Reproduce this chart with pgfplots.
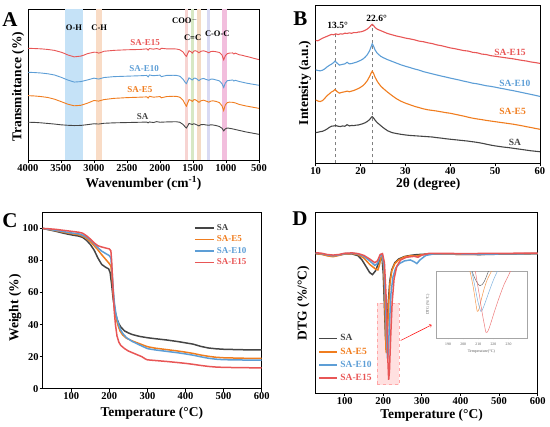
\documentclass[border=0pt]{standalone}
\usepackage{pgfplots}
\pgfplotsset{compat=1.18}
\usepackage{fontspec}
\setmainfont{Liberation Serif}
\definecolor{cSA}{HTML}{454545}
\definecolor{cE5}{HTML}{F07D1F}
\definecolor{cE10}{HTML}{5D9ED6}
\definecolor{cE15}{HTML}{E85656}
\definecolor{bOH}{HTML}{C5E2F7}
\definecolor{bCH}{HTML}{F9DCC6}
\definecolor{bPa}{HTML}{F7D4D2}
\definecolor{bG}{HTML}{D7E8C4}
\definecolor{bT}{HTML}{F4DAC4}
\definecolor{bL}{HTML}{D9DAF3}
\definecolor{bPb}{HTML}{F2BEDD}
\pgfplotsset{
  panel/.style={
    scale only axis, axis line style={line width=0.9pt}, tick style={line width=0.8pt,black},
    tick align=outside, tick pos=left, major tick length=3pt,
    /pgf/number format/assume math mode=true,
    /pgf/number format/1000 sep={},
    tick label style={font=\bfseries\fontsize{10.5}{11}\selectfont, inner sep=1pt},
    label style={font=\bfseries\fontsize{13.5}{14}\selectfont, inner sep=0pt},
  },
}
\begin{document}
\begin{tikzpicture}[x=1pt,y=1pt]
\path[use as bounding box] (0,0) rectangle (550,427);
% ---------------- A ----------------
\begin{axis}[panel, at={(28pt,267pt)}, anchor=south west, width=231pt, height=151pt,
  x dir=reverse, xmin=500, xmax=4000, ymin=0, ymax=100,
  xtick={500,1000,...,4000}, ytick=\empty,
  xlabel={Wavenumber (cm\textsuperscript{-1})}, ylabel={Transmittance (\%)},
  xlabel style={at={(axis description cs:0.5,-0.157)},anchor=center},
  ylabel style={at={(axis description cs:-0.043,0.485)},anchor=center},
]
\addplot[fill=bOH,draw=none] coordinates {(3440,0)(3170,0)(3170,100)(3440,100)} -- cycle;
\addplot[fill=bCH,draw=none] coordinates {(2965,0)(2880,0)(2880,100)(2965,100)} -- cycle;
\addplot[fill=bPa,draw=none] coordinates {(1621,0)(1571,0)(1571,100)(1621,100)} -- cycle;
\addplot[fill=bG,draw=none] coordinates {(1535,0)(1480,0)(1480,100)(1535,100)} -- cycle;
\addplot[fill=bT,draw=none] coordinates {(1435,0)(1385,0)(1385,100)(1435,100)} -- cycle;
\addplot[fill=bL,draw=none] coordinates {(1295,0)(1235,0)(1235,100)(1295,100)} -- cycle;
\addplot[fill=bPb,draw=none] coordinates {(1058,0)(992,0)(992,100)(1058,100)} -- cycle;
\addplot[cE15,line width=0.9pt] coordinates {
(4000,74.0)(3900,73.8)(3800,73.6)(3700,73.2)(3600,72.6)(3500,71.4)(3450,70.6)(3400,69.6)(3300,68.3)(3200,68.8)(3150,69.5)(3100,70.4)(3000,71.4)(2960,71.3)(2930,70.8)(2900,71.1)(2850,72.0)(2700,72.6)(2500,73.0)(2300,73.2)(2200,73.6)(2180,72.8)(2160,73.8)(2100,73.4)(2050,73.8)(2000,73.2)(1980,74.0)(1900,73.6)(1800,73.6)(1750,73.5)(1700,73.0)(1650,71.5)(1620,69.5)(1600,68.6)(1580,70.5)(1560,72.4)(1530,71.6)(1510,70.8)(1490,72.0)(1470,72.4)(1440,72.0)(1410,71.0)(1380,72.0)(1340,72.3)(1300,71.8)(1260,71.0)(1230,71.8)(1200,72.0)(1150,71.7)(1100,71.2)(1060,69.5)(1035,66.3)(1010,69.0)(980,70.4)(950,70.8)(900,70.9)(880,70.2)(860,70.8)(800,69.7)(750,69.3)(700,68.7)(650,68.2)(600,67.6)(550,67.0)(500,66.5)};
\addplot[cE10,line width=0.9pt] coordinates {
(4000,58.1)(3900,57.9)(3800,57.6)(3700,57.1)(3600,56.3)(3500,54.8)(3400,53.0)(3300,51.6)(3200,51.9)(3100,53.0)(3000,54.2)(2930,53.6)(2850,54.6)(2700,55.2)(2500,55.5)(2300,55.8)(2200,56.0)(2180,55.0)(2160,56.3)(2100,55.8)(2000,56.2)(1980,55.2)(1900,56.0)(1800,56.1)(1750,56.0)(1700,55.5)(1650,53.5)(1620,51.5)(1600,50.6)(1580,52.5)(1560,54.4)(1530,53.5)(1510,53.0)(1490,54.0)(1470,54.3)(1440,53.6)(1410,52.5)(1380,53.6)(1340,54.0)(1300,53.3)(1260,52.8)(1230,53.5)(1200,53.6)(1150,53.0)(1100,52.4)(1060,50.5)(1035,48.0)(1010,51.0)(980,52.5)(950,52.7)(900,53.0)(880,52.3)(860,52.8)(800,52.0)(700,51.0)(600,50.2)(500,49.5)};
\addplot[cE5,line width=0.9pt] coordinates {
(4000,42.6)(3900,42.4)(3800,42.0)(3700,41.4)(3600,40.3)(3500,38.7)(3400,37.0)(3300,35.9)(3200,36.2)(3100,37.6)(3000,39.4)(2930,39.0)(2850,40.0)(2700,40.8)(2500,41.3)(2300,41.6)(2200,41.8)(2180,41.0)(2160,42.2)(2100,41.6)(2000,42.0)(1980,41.2)(1900,42.0)(1800,42.2)(1750,42.1)(1700,41.6)(1650,39.5)(1620,37.0)(1600,35.6)(1580,37.8)(1560,40.0)(1530,39.5)(1510,38.8)(1490,39.8)(1470,40.0)(1440,39.2)(1410,38.2)(1380,39.2)(1340,39.6)(1300,39.0)(1260,38.3)(1230,39.0)(1200,39.2)(1150,38.8)(1100,38.0)(1060,35.8)(1035,32.8)(1010,36.5)(980,38.0)(950,38.3)(900,38.2)(860,37.8)(800,36.8)(700,35.8)(600,35.0)(500,34.2)};
\addplot[cSA,line width=0.9pt] coordinates {
(4000,25.0)(3900,24.9)(3800,24.6)(3700,24.2)(3600,23.8)(3500,23.3)(3400,23.0)(3300,22.8)(3200,22.9)(3100,23.4)(3000,24.0)(2930,23.8)(2850,24.3)(2700,24.6)(2500,24.8)(2300,25.0)(2200,25.1)(2180,24.6)(2160,25.2)(2100,24.8)(2050,25.4)(2000,25.0)(1900,25.2)(1800,25.3)(1750,25.3)(1700,25.0)(1650,23.5)(1620,22.0)(1600,21.2)(1580,22.6)(1560,24.2)(1530,23.8)(1510,23.5)(1490,24.0)(1470,23.8)(1440,23.2)(1410,22.6)(1380,23.4)(1340,23.5)(1300,23.2)(1260,23.0)(1230,23.3)(1200,23.2)(1150,22.8)(1100,22.2)(1060,21.0)(1035,19.3)(1010,20.6)(980,21.2)(950,21.0)(900,20.6)(800,19.6)(700,18.6)(600,17.8)(500,17.0)};
\begin{scope}[font=\bfseries\fontsize{9}{10}\selectfont]
\node[cE15] at (axis cs:2227,77.7) {SA-E15};
\node[cE10] at (axis cs:2240,60.7) {SA-E10};
\node[cE5] at (axis cs:2303,46.8) {SA-E5};
\node[cSA] at (axis cs:2262,28.7) {SA};
\end{scope}
\begin{scope}[font=\bfseries\fontsize{8.5}{9}\selectfont]
\node at (axis cs:3303,87.6) {O-H};
\node at (axis cs:2920,87.6) {C-H};
\node at (axis cs:1621,92.3) {COO$^{-}$};
\node at (axis cs:1505,81.2) {C=C};
\node at (axis cs:1132,83.9) {C-O-C};
\end{scope}
\end{axis}
% ---------------- B ----------------
\begin{axis}[panel, at={(315.7pt,263.7pt)}, anchor=south west, width=224.3pt, height=158.3pt,
  xmin=10, xmax=60, ymin=0, ymax=100, xtick={10,20,...,60}, ytick=\empty,
  xlabel={2θ (degree)}, ylabel={Intensity (a.u.)},
  xlabel style={at={(axis description cs:0.502,-0.133)},anchor=center},
  ylabel style={at={(axis description cs:-0.048,0.507)},anchor=center},
]
\addplot[gray,dashed,line width=0.6pt] coordinates {(14.3,0)(14.3,81.5)};
\addplot[gray,dashed,line width=0.6pt] coordinates {(22.6,0)(22.6,87.5)};
\addplot[cE15,line width=1.1pt] coordinates {
(10,77.6)(10.5,77.4)(11,78.2)(11.5,79.0)(12,79.6)(12.5,80.2)(13,80.8)(13.5,81.4)(14,81.2)(14.5,81.8)(15,81.3)(15.5,81.8)(16,81.6)(16.5,82.2)(17,82.0)(17.5,82.4)(18,82.1)(18.5,82.6)(19,82.5)(19.5,82.9)(20,83.0)(20.5,83.4)(21,84.0)(21.5,84.8)(22,86.0)(22.4,87.3)(22.6,87.8)(22.9,87.0)(23.3,85.6)(23.8,84.6)(24.5,83.8)(25,83.2)(26,82.0)(27,81.2)(28,80.4)(29,79.8)(30,79.1)(31,78.6)(32,78.0)(33,77.2)(34,76.8)(35,76.1)(36,75.6)(37,74.8)(38,74.3)(39,73.6)(40,72.9)(41,72.4)(42,71.8)(43,71.2)(44,70.9)(45,70.1)(46,69.8)(47,69.0)(48,68.7)(49,68.0)(50,67.6)(51,67.2)(52,66.8)(53,66.4)(54,66.0)(55,65.5)(56,65.0)(57,64.6)(58,64.0)(59,63.6)(60,63.1)};
\addplot[cE10,line width=1.1pt] coordinates {
(10,59.0)(10.5,58.6)(11,58.4)(11.5,58.8)(12,59.6)(12.5,60.8)(13,61.8)(13.5,62.6)(14,63.6)(14.3,64.6)(14.8,63.2)(15.3,62.0)(15.8,62.4)(16.5,62.8)(17,63.8)(17.5,62.8)(18,63.0)(18.5,63.4)(19,63.8)(19.5,64.4)(20,65.0)(20.5,65.8)(21,67.0)(21.5,68.6)(22,71.0)(22.4,74.0)(22.6,75.5)(22.9,74.0)(23.2,71.8)(23.6,70.0)(24,68.8)(24.5,67.6)(25,66.8)(26,65.5)(27,64.4)(28,63.3)(29,62.2)(30,61.3)(31,60.5)(32,59.6)(33,58.9)(34,57.9)(35,57.2)(36,56.5)(37,55.8)(38,55.1)(39,54.5)(40,53.8)(41,53.2)(42,52.6)(43,51.9)(44,51.3)(45,50.6)(46,50.2)(47,49.6)(48,49.0)(49,48.6)(50,48.1)(51,47.5)(52,47.0)(53,46.4)(54,45.9)(55,45.3)(56,44.7)(57,44.1)(58,43.5)(59,42.9)(60,42.2)};
\addplot[cE5,line width=1.1pt] coordinates {
(10,40.0)(10.5,39.3)(11,39.0)(11.5,39.6)(12,41.0)(12.5,42.6)(13,43.8)(13.5,45.0)(14,45.8)(14.3,46.6)(14.8,45.2)(15.3,44.3)(15.8,44.8)(16.5,45.2)(17,45.6)(17.5,45.2)(18,45.6)(18.5,46.0)(19,46.6)(19.5,47.2)(20,48.0)(20.5,49.0)(21,50.4)(21.5,52.2)(22,54.8)(22.4,57.2)(22.6,58.2)(22.9,56.8)(23.2,54.6)(23.6,52.4)(24,50.6)(24.5,48.8)(25,47.4)(26,45.0)(27,42.8)(28,40.8)(29,39.2)(30,38.0)(31,37.0)(32,36.0)(33,35.2)(34,34.4)(35,33.8)(36,33.4)(37,33.0)(38,32.5)(39,32.0)(40,31.6)(41,31.0)(42,30.4)(43,29.8)(44,29.1)(45,28.5)(46,28.0)(47,27.6)(48,27.1)(49,26.7)(50,26.3)(51,25.9)(52,25.5)(53,25.1)(54,24.7)(55,24.2)(56,23.7)(57,23.1)(58,22.6)(59,22.0)(60,21.5)};
\addplot[cSA,line width=1.1pt] coordinates {
(10,19.4)(10.5,19.6)(11,20.0)(11.5,20.2)(12,20.8)(12.5,21.6)(13,22.6)(13.5,23.4)(14,23.6)(14.5,23.8)(15,23.4)(15.5,23.2)(16,23.6)(16.5,23.4)(17,24.4)(17.5,23.6)(18,23.9)(18.5,23.8)(19,24.1)(19.5,24.2)(20,24.6)(20.5,25.0)(21,25.6)(21.5,26.4)(22,27.6)(22.4,29.0)(22.6,29.5)(22.9,28.6)(23.2,27.4)(23.6,26.0)(24,25.0)(24.5,23.8)(25,22.6)(26,20.6)(27,19.4)(28,18.8)(29,18.3)(30,17.9)(31,17.6)(32,17.4)(33,17.2)(34,17.0)(35,16.8)(36,16.6)(37,16.2)(38,15.9)(39,15.5)(40,15.2)(41,14.9)(42,14.6)(43,14.3)(44,14.0)(45,13.6)(46,13.2)(47,12.7)(48,12.1)(49,11.5)(50,11.0)(51,10.6)(52,10.2)(53,9.9)(54,9.5)(55,9.1)(56,8.7)(57,8.3)(58,7.9)(59,7.6)(60,7.3)};
\begin{scope}[font=\bfseries\fontsize{9.5}{10}\selectfont]
\node[cE15] at (axis cs:53.3,70.2) {SA-E15};
\node[cE10] at (axis cs:54.4,50.2) {SA-E10};
\node[cE5] at (axis cs:53.9,32.7) {SA-E5};
\node[cSA] at (axis cs:54.4,13) {SA};
\node at (axis cs:14.9,86.9) {13.5°};
\node at (axis cs:23.6,91.3) {22.6°};
\end{scope}
\end{axis}
% ---------------- C ----------------
\begin{axis}[panel, at={(42.7pt,38.3pt)}, anchor=south west, width=219pt, height=176.3pt,
  xmin=25, xmax=600, ymin=0, ymax=110, xtick={100,200,...,600}, ytick={0,20,...,100},
  xlabel={Temperature (°C)}, ylabel={Weight (\%)},
  xlabel style={at={(axis description cs:0.498,-0.14)},anchor=center},
  ylabel style={at={(axis description cs:-0.126,0.458)},anchor=center},
  legend style={at={(0.69,0.945)},anchor=north west,draw=none,fill=none,
    font=\bfseries\fontsize{9}{10}\selectfont, row sep=0pt, inner sep=0pt},
  legend cell align=left,
  legend image code/.code={\draw[#1,line width=1.8pt](0pt,0pt)--(19pt,0pt);},
]
\addplot[cSA,line width=1.5pt] coordinates {
(25,100)(40,99.2)(60,98.2)(80,97.0)(100,96.0)(120,95.2)(130,94.4)(140,92.6)(150,90.0)(160,86.5)(170,81.5)(180,77.5)(190,75.8)(198,74.8)(202,72.5)(206,65)(210,56)(215,48)(220,43.5)(225,40.5)(230,38.5)(240,36.0)(250,34.8)(260,33.8)(280,32.6)(300,31.8)(320,31.2)(350,30.4)(380,29.4)(400,28.6)(420,27.8)(440,26.4)(460,25.4)(480,24.9)(500,24.6)(550,24.3)(600,24.2)};
\addlegendentry{\textcolor{cSA}{SA}}
\addplot[cE5,line width=1.5pt] coordinates {
(25,100)(40,99.4)(60,98.6)(80,97.6)(100,96.8)(120,96.0)(130,95.2)(140,93.8)(150,91.8)(160,89.2)(170,86.6)(180,83.6)(190,80.8)(200,78.0)(204,76.5)(207,70)(210,60)(213,52)(217,45)(222,40)(228,36)(235,33.5)(245,31.5)(260,29.8)(280,28.0)(300,26.2)(320,25.3)(350,24.4)(380,23.5)(400,22.8)(420,22.0)(440,21.0)(460,20.2)(480,19.6)(500,19.3)(550,19.0)(600,18.9)};
\addlegendentry{\textcolor{cE5}{SA-E5}}
\addplot[cE10,line width=1.5pt] coordinates {
(25,100)(40,99.5)(60,98.8)(80,98.0)(100,97.2)(120,96.6)(130,95.8)(140,94.6)(150,92.8)(160,90.5)(170,88.0)(180,85.8)(190,84.4)(200,83.0)(204,81.5)(207,74)(210,63)(213,54)(217,47)(222,42)(228,37.5)(235,34.5)(245,31.8)(260,29.5)(280,27.2)(300,25.0)(320,24.2)(350,23.3)(380,22.4)(400,21.7)(420,20.9)(440,19.9)(460,19.0)(480,18.4)(500,18.1)(550,17.9)(600,17.8)};
\addlegendentry{\textcolor{cE10}{SA-E10}}
\addplot[cE15,line width=1.5pt] coordinates {
(25,100)(40,99.8)(60,99.4)(80,98.8)(100,98.2)(120,97.6)(130,97.0)(140,95.4)(150,93.4)(160,91.0)(170,89.2)(180,88.4)(190,87.8)(200,87.2)(204,86.0)(206,80)(208,70)(210,60)(213,48)(216,40)(220,33)(225,29)(230,27)(240,25)(250,23.5)(270,21.5)(285,20.0)(295,18.5)(300,18.0)(320,17.6)(350,17.0)(380,16.3)(400,15.8)(420,15.2)(440,14.5)(460,13.9)(480,13.5)(500,13.3)(550,13.1)(600,13.0)};
\addlegendentry{\textcolor{cE15}{SA-E15}}
\end{axis}
% ---------------- D ----------------
\begin{axis}[panel, at={(315.7pt,34pt)}, anchor=south west, width=222pt, height=181pt,
  xmin=25, xmax=600, ymin=0, ymax=100, xtick={100,200,...,600}, ytick=\empty,
  xlabel={Temperature (°C)}, ylabel={DTG (\%/°C)},
  xlabel style={at={(axis description cs:0.522,-0.122)},anchor=center},
  ylabel style={at={(axis description cs:-0.056,0.497)},anchor=center},
  legend style={at={(0.012,0.335)},anchor=north west,draw=none,fill=none,
    font=\bfseries\fontsize{9.5}{10}\selectfont, row sep=1.5pt, inner sep=0pt},
  legend cell align=left,
  legend image code/.code={\draw[#1,line width=1.8pt](0pt,0pt)--(18pt,0pt);},
]
\addplot[fill=red!12,draw=red!35,dashed,line width=0.5pt,forget plot] coordinates {(184,4.6)(241,4.6)(241,49.7)(184,49.7)} -- cycle;
\addplot[cSA,line width=1.5pt] coordinates {
(25,77)(40,76.8)(55,76)(70,75.6)(85,76.2)(100,76.8)(120,76.8)(135,75.8)(145,73.5)(155,70)(165,66.5)(172,65.4)(180,67.5)(188,72)(193,74.5)(197,74)(200,66)(203,48)(206,30)(208,28)(210,35)(213,50)(217,62)(222,68)(230,72)(240,74)(255,75.4)(270,76)(285,76.4)(300,76.6)(320,76.8)(350,76.8)(400,76.6)(450,76.5)(500,76.7)(550,76.8)(600,77)};
\addlegendentry{\textcolor{cSA}{SA}}
\addplot[cE5,line width=1.5pt] coordinates {
(25,77)(40,76.6)(55,75.8)(70,75.3)(85,76.0)(100,76.8)(120,77)(135,76.4)(150,74.5)(165,71)(180,68.5)(186,68.0)(190,70.5)(194,74.8)(198,75.5)(201,70)(204,50)(207,24)(208,22)(210,28)(213,45)(217,60)(222,67.5)(230,71.5)(240,73.5)(255,75.2)(270,75.8)(285,75.6)(300,76.4)(320,76.8)(350,76.8)(400,76.6)(450,76.6)(500,76.8)(550,76.9)(600,77)};
\addlegendentry{\textcolor{cE5}{SA-E5}}
\addplot[cE10,line width=1.5pt] coordinates {
(25,77.2)(40,77)(55,76.3)(70,75.8)(85,76.3)(100,77)(120,77.2)(135,76.8)(150,75.5)(165,73)(178,70.5)(185,71.5)(192,75.8)(197,76.3)(202,70)(206,50)(209,28)(211,19)(213,22)(216,38)(220,55)(225,64)(232,69)(242,71.5)(255,73)(270,73.5)(280,72.5)(287,71.5)(295,73.5)(310,76)(330,76.8)(400,76.8)(450,76.6)(500,76.8)(600,77)};
\addlegendentry{\textcolor{cE10}{SA-E10}}
\addplot[cE15,line width=1.5pt] coordinates {
(25,77.5)(40,77.2)(55,76.5)(70,76.2)(85,76.5)(100,77.2)(120,77.4)(135,77)(150,76)(165,74)(178,72)(185,73)(192,76.5)(198,77)(203,72)(207,55)(210,35)(212,18)(214,7.3)(216,12)(219,30)(223,50)(228,63)(235,70)(245,73.5)(260,75)(280,75.5)(290,75)(300,76.2)(320,77.2)(350,77.2)(400,77)(600,77.3)};
\addlegendentry{\textcolor{cE15}{SA-E15}}
\draw[->,red,line width=0.5pt] (axis cs:245,29) -- (axis cs:325,37.6);
\end{axis}
% ---------------- D inset ----------------
\begin{axis}[scale only axis, at={(436pt,89pt)}, anchor=south west, width=90.7pt, height=66.7pt,
  xmin=182, xmax=242, ymin=0, ymax=100, xtick={190,200,...,230}, ytick=\empty,
  axis line style={gray!70,line width=0.4pt}, tick style={gray,line width=0.3pt},
  tick align=outside, tick pos=left, major tick length=1.5pt,
  /pgf/number format/assume math mode=true,
  tick label style={font=\fontsize{3.8}{4}\selectfont, gray!70!black},
  label style={font=\fontsize{4}{4.5}\selectfont, gray!70!black},
  xlabel={Temperature(°C)}, ylabel={DTG (\%/°C)},
  xlabel style={at={(axis description cs:0.5,-0.2)},anchor=center},
  ylabel style={at={(axis description cs:-0.09,0.5)},anchor=center},
]
\addplot[cSA!80,line width=0.5pt,smooth] coordinates {(205,105)(206.5,96)(208,88)(209.5,82)(211,78.4)(212.5,80)(214,85)(215.5,93)(217,102)};
\addplot[cE5!80,line width=0.5pt,smooth] coordinates {(203.5,108)(205,95)(206.5,78)(208,57)(209.3,40)(210.5,44)(212,58)(214,75)(216,88)(218,97)(219.5,104)};
\addplot[cE10!80,line width=0.5pt,smooth] coordinates {(204.5,110)(205.6,100)(207.5,80)(209.5,57)(211.6,40)(213,44)(215,56)(217.5,72)(220,87)(223,102)};
\addplot[cE15!80,line width=0.5pt,smooth] coordinates {(207,108)(208,100)(209.5,80)(211,60)(212.5,38)(214,20)(215.1,8.5)(216.5,11)(218.5,24)(221,42)(224,62)(227,80)(230,94)(232,104)};
\end{axis}
% panel letters
\begin{scope}[font=\bfseries\fontsize{21}{22}\selectfont]
\node at (10,407.5) {A};
\node at (300.5,408.5) {B};
\node at (10,206) {C};
\node at (300,208) {D};
\end{scope}
\end{tikzpicture}
\end{document}
